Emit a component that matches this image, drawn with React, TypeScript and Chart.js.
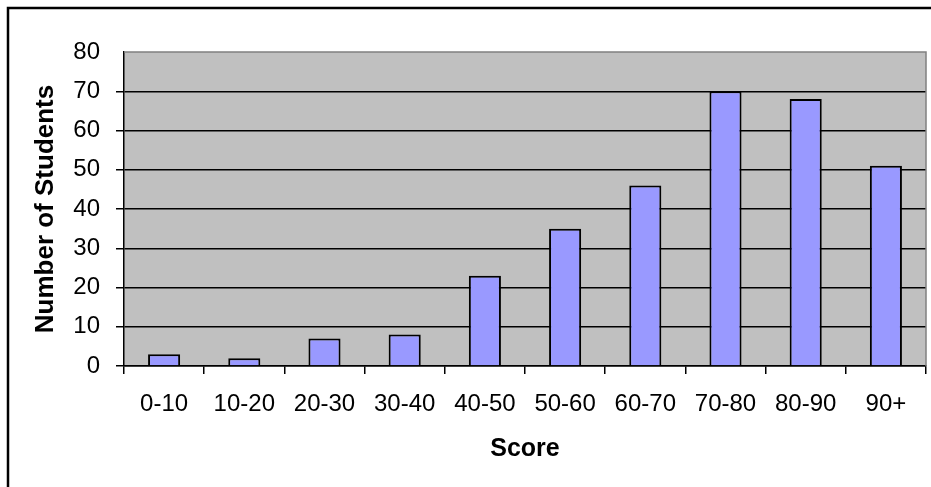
import React, { useEffect, useRef } from "react";
import { Chart, registerables } from "chart.js";

Chart.register(...registerables);

const categories = ["0-10", "10-20", "20-30", "30-40", "40-50", "50-60", "60-70", "70-80", "80-90", "90+"];
const students = [3, 2, 7, 8, 23, 35, 46, 70, 68, 51];
const yTitle = "Number of Students";
const xTitle = "Score";

const FONT = "'Liberation Sans', Arial, sans-serif";

const framePlugin = {
  id: "framePlugin",
  beforeDraw(chart: any) {
    const { ctx, chartArea, width, height } = chart;
    ctx.save();
    ctx.fillStyle = "#ffffff";
    ctx.fillRect(0, 0, width, height);
    ctx.fillStyle = "#C0C0C0";
    ctx.fillRect(chartArea.left, chartArea.top, chartArea.right - chartArea.left, chartArea.bottom - chartArea.top);
    ctx.strokeStyle = "#000";
    ctx.lineWidth = 2.5;
    ctx.beginPath();
    ctx.moveTo(8, height + 5);
    ctx.lineTo(8, 8);
    ctx.lineTo(width + 5, 8);
    ctx.stroke();
    ctx.restore();
  },
  beforeDatasetsDraw(chart: any) {
    const { ctx, chartArea } = chart;
    ctx.save();
    ctx.strokeStyle = "#808080";
    ctx.lineWidth = 1.5;
    ctx.beginPath();
    ctx.moveTo(chartArea.left, chartArea.top);
    ctx.lineTo(chartArea.right, chartArea.top);
    ctx.lineTo(chartArea.right, chartArea.bottom);
    ctx.stroke();
    ctx.restore();
  },
};

export default function App() {
  const ref = useRef<HTMLCanvasElement | null>(null);
  useEffect(() => {
    if (!ref.current) return;
    const chart = new Chart(ref.current, {
      type: "bar",
      data: {
        labels: categories,
        datasets: [
          {
            data: students,
            backgroundColor: "#9999FF",
            borderColor: "#000000",
            borderWidth: 2,
            barPercentage: 0.4,
            categoryPercentage: 1.0,
          },
        ],
      },
      options: {
        animation: false,
        responsive: false,
        devicePixelRatio: 1,
        layout: { padding: { left: 0, top: 52, right: 5, bottom: 0 } },
        plugins: { legend: { display: false }, tooltip: { enabled: false } },
        scales: {
          x: {
            afterFit: (s: any) => {
              s.height = 121;
            },
            grid: {
              offset: true,
              drawOnChartArea: false,
              drawTicks: true,
              tickLength: 8,
              color: "#000",
              lineWidth: 1.5,
            },
            border: { display: true, color: "#000", width: 1.5 },
            ticks: {
              color: "#000",
              padding: 16,
              maxRotation: 0,
              autoSkip: false,
              font: { family: FONT, size: 24 },
            },
            title: {
              display: true,
              text: xTitle,
              color: "#000",
              padding: { top: 0, bottom: 23 },
              font: { family: FONT, size: 25, weight: "bold" },
            },
          },
          y: {
            min: 0,
            max: 80,
            afterFit: (s: any) => {
              s.width = 124;
            },
            ticks: {
              stepSize: 10,
              color: "#000",
              padding: 16,
              font: { family: FONT, size: 24 },
            },
            grid: {
              color: (c: any) => (c.tick && c.tick.value === 80 ? "rgba(0,0,0,0)" : "#000"),
              lineWidth: 1.5,
              drawTicks: true,
              tickLength: 8,
            },
            border: { display: true, color: "#000", width: 1.5 },
            title: {
              display: true,
              text: yTitle,
              color: "#000",
              padding: { top: 30, bottom: 0 },
              font: { family: FONT, size: 26, weight: "bold" },
            },
          },
        },
      },
      plugins: [framePlugin],
    });
    return () => chart.destroy();
  }, []);
  return (
    <div style={{ position: "fixed", left: 0, top: 0, width: 931, height: 487, background: "#fff" }}>
      <canvas ref={ref} width={931} height={487} style={{ display: "block" }} />
    </div>
  );
}
